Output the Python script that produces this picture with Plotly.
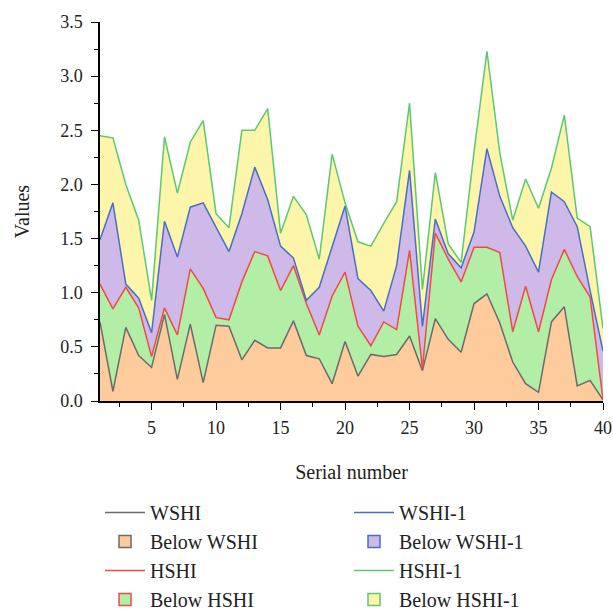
import plotly.graph_objects as go

serial = list(range(1, 41))
wshi = [0.73, 0.09, 0.68, 0.42, 0.31, 0.80, 0.20, 0.71, 0.17, 0.70, 0.69, 0.38, 0.56, 0.49,
        0.49, 0.74, 0.42, 0.39, 0.16, 0.55, 0.23, 0.43, 0.41, 0.43, 0.60, 0.28, 0.76,
        0.57, 0.45, 0.90, 0.99, 0.72, 0.36, 0.16, 0.08, 0.73, 0.87, 0.14, 0.19, 0.01]
hshi = [1.08, 0.85, 1.05, 0.86, 0.41, 0.86, 0.61, 1.22, 1.04, 0.77, 0.75, 1.10, 1.38, 1.34,
        1.02, 1.25, 0.90, 0.61, 0.97, 1.19, 0.69, 0.51, 0.73, 0.66, 1.39, 0.30, 1.55,
        1.31, 1.10, 1.42, 1.42, 1.37, 0.64, 1.06, 0.64, 1.12, 1.40, 1.15, 0.96, 0.01]
wshi1 = [1.49, 1.83, 1.08, 0.95, 0.63, 1.66, 1.33, 1.79, 1.83, 1.61, 1.38, 1.73, 2.16, 1.86,
         1.43, 1.32, 0.93, 1.05, 1.42, 1.80, 1.13, 1.02, 0.83, 1.25, 2.13, 0.69, 1.68,
         1.36, 1.23, 1.56, 2.33, 1.89, 1.60, 1.43, 1.19, 1.93, 1.84, 1.61, 1.02, 0.46]
hshi1 = [2.45, 2.43, 2.00, 1.67, 0.93, 2.44, 1.92, 2.39, 2.59, 1.73, 1.60, 2.50, 2.50, 2.70,
         1.55, 1.89, 1.72, 1.31, 2.28, 1.83, 1.47, 1.43, 1.64, 1.84, 2.75, 1.03, 2.11,
         1.45, 1.28, 2.30, 3.23, 2.29, 1.67, 2.05, 1.78, 2.15, 2.64, 1.69, 1.61, 0.67]

names = ["WSHI", "HSHI", "WSHI-1", "HSHI-1"]
series = [wshi, hshi, wshi1, hshi1]
line_colors = ["#6b6b6b", "#ef4b45", "#4670c4", "#5cc870"]
fill_colors = ["#fdcb9c", "#b3eea6", "#cfb9e8", "#fdf5a9"]
# legend ranks for row-major 2-column layout
line_rank = [1, 5, 2, 6]
fill_rank = [3, 7, 4, 8]

fig = go.Figure()
for i, (nm, ys) in enumerate(zip(names, series)):
    fig.add_trace(go.Scatter(
        x=serial, y=ys, mode="lines",
        line=dict(color=line_colors[i], width=1.5),
        fill="tozeroy" if i == 0 else "tonexty",
        fillcolor=fill_colors[i],
        showlegend=False, hoverinfo="skip"))

for i, nm in enumerate(names):
    fig.add_trace(go.Scatter(
        x=[None], y=[None], mode="lines", name=nm,
        line=dict(color=line_colors[i], width=1.5),
        legendrank=line_rank[i]))
    fig.add_trace(go.Scatter(
        x=[None], y=[None], mode="markers", name="Below " + nm,
        marker=dict(symbol="square", size=12, color=fill_colors[i],
                    line=dict(color=line_colors[i], width=1.5)),
        legendrank=fill_rank[i]))

font_family = "Liberation Serif"
fig.update_layout(
    width=613, height=612,
    margin=dict(l=100, r=10, t=22, b=211, autoexpand=False),
    paper_bgcolor="white", plot_bgcolor="white",
    font=dict(family=font_family, size=18, color="#222222"),
    hovermode=False,
    xaxis=dict(
        range=[1, 40], tickmode="linear", tick0=0, dtick=5,
        ticks="outside", ticklen=7, tickwidth=1.2, tickcolor="black",
        showline=True, linecolor="black", linewidth=1.5,
        showgrid=False, zeroline=False,
        minor=dict(dtick=2.5, tick0=0, ticks="outside", ticklen=4, tickcolor="black", tickwidth=1.2),
        tickfont=dict(size=18), ticklabelstandoff=3,
        title=dict(text="Serial number", font=dict(size=20), standoff=28),
    ),
    yaxis=dict(
        range=[0, 3.5], tickmode="linear", tick0=0, dtick=0.5, tickformat=".1f",
        ticks="outside", ticklen=7, tickwidth=1.2, tickcolor="black",
        showline=True, linecolor="black", linewidth=1.5,
        showgrid=False, zeroline=False,
        minor=dict(dtick=0.25, ticks="outside", ticklen=4, tickcolor="black", tickwidth=1.2),
        tickfont=dict(size=18), ticklabelstandoff=5,
        title=dict(text="Values", font=dict(size=20), standoff=25),
    ),
    legend=dict(
        orientation="h", x=0.0, xanchor="left", y=-0.243, yanchor="top",
        entrywidth=194, entrywidthmode="pixels",
        font=dict(size=20), bgcolor="rgba(0,0,0,0)",
        traceorder="normal", itemwidth=40,
    ),
)

fig.write_html(
    "out.html",
    config={"displayModeBar": False},
    post_script="document.body.style.margin='0';document.body.style.overflow='hidden';",
)
